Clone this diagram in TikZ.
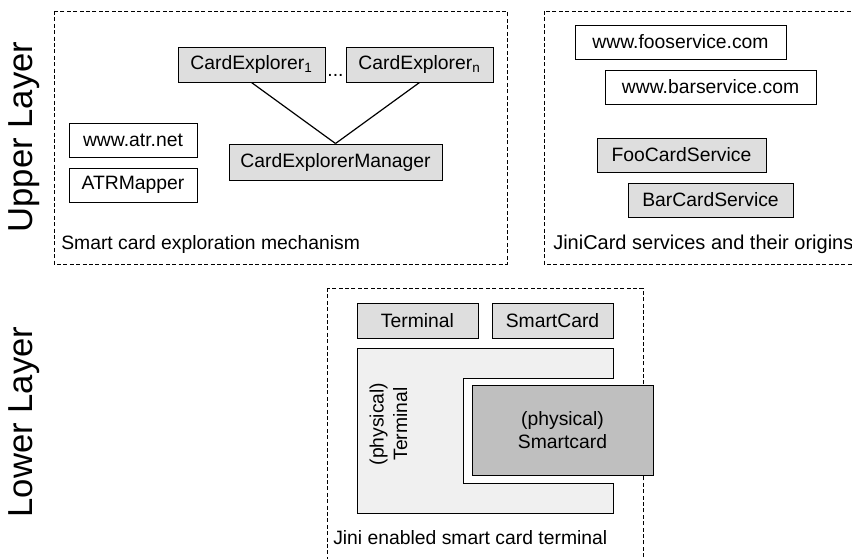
\documentclass[tikz,border=0pt]{standalone}
\usepackage{fontspec}
\setmainfont{Liberation Sans}
\begin{document}
\begin{tikzpicture}[x=0.75pt,y=-0.75pt,
  every node/.style={font=\fontsize{14.5}{16.5}\selectfont},
  box/.style 2 args={draw=black, line width=0.75pt, inner sep=0pt,
     minimum width=#1*0.75pt, minimum height=#2*0.75pt},
  graybox/.style={fill=black!13},
  container/.style={draw=black, line width=0.75pt, dash pattern=on 3pt off 1.8pt},
  layerlabel/.style={font=\fontsize{26}{28}\selectfont, rotate=90, inner sep=0pt},
  caption/.style={anchor=base west, inner sep=0pt},
  link/.style={draw=black, line width=0.9pt}]
\clip (0,0) rectangle (852,558);
\fill[white] (0,0) rectangle (852,558);

% containers
\draw[container] (54,11) rectangle (507,264);
\draw[container] (544,11) rectangle (870,264);
\draw[container] (327,288) rectangle (643,575);

% layer labels
\node[layerlabel] (upper) at (24,137) {Upper Layer};
\node[layerlabel] (lower) at (24,422) {Lower Layer};

% upper left
\node[box={147}{35}, graybox] (ce1) at (251.5,64.5) {CardExplorer\textsubscript{1}};
\node[box={147}{35}, graybox] (cen) at (419.5,64.5) {CardExplorer\textsubscript{n}};
\node[inner sep=0pt, anchor=base] (dots) at (335.5,76) {...};
\node[box={213}{36}, graybox] (cem) at (335.5,162) {CardExplorerManager};
\node[box={128}{34}] (atr) at (133,140) {www.atr.net};
\node[box={128}{34}] (atrm) at (133,185) {ATRMapper};
\draw[link] (ce1.south) -- (cem.north);
\draw[link] (cen.south) -- (cem.north);
\node[caption] (cap1) at (61,249) {Smart card exploration mechanism};

% upper right
\node[box={211}{34}] (foo) at (680.5,42) {www.fooservice.com};
\node[box={211}{34}] (bar) at (710.5,87) {www.barservice.com};
\node[box={169}{34}, graybox] (foocs) at (681.5,155) {FooCardService};
\node[box={165}{34}, graybox] (barcs) at (710.5,200) {BarCardService};
\node[caption, font=\fontsize{15}{17}\selectfont] (cap2) at (553,249) {JiniCard services and their origins};

% lower
\node[box={121}{35}, graybox] (term) at (417.5,320.5) {Terminal};
\node[box={121}{35}, graybox] (sc) at (552.5,320.5) {SmartCard};
\draw[line width=0.75pt, fill=black!6] (357,348) -- (613,348) -- (613,378) -- (463,378)
   -- (463,483) -- (613,483) -- (613,513) -- (357,513) -- cycle;
\node[rotate=90, align=center, inner sep=0pt] (pterm) at (388.5,424) {(physical)\\[1pt]Terminal};
\node[box={181}{90}, fill=black!25, align=center] (psc) at (562.5,430) {(physical)\\[1pt]Smartcard};
\node[caption] (cap3) at (333,544) {Jini enabled smart card terminal};
\end{tikzpicture}
\end{document}
